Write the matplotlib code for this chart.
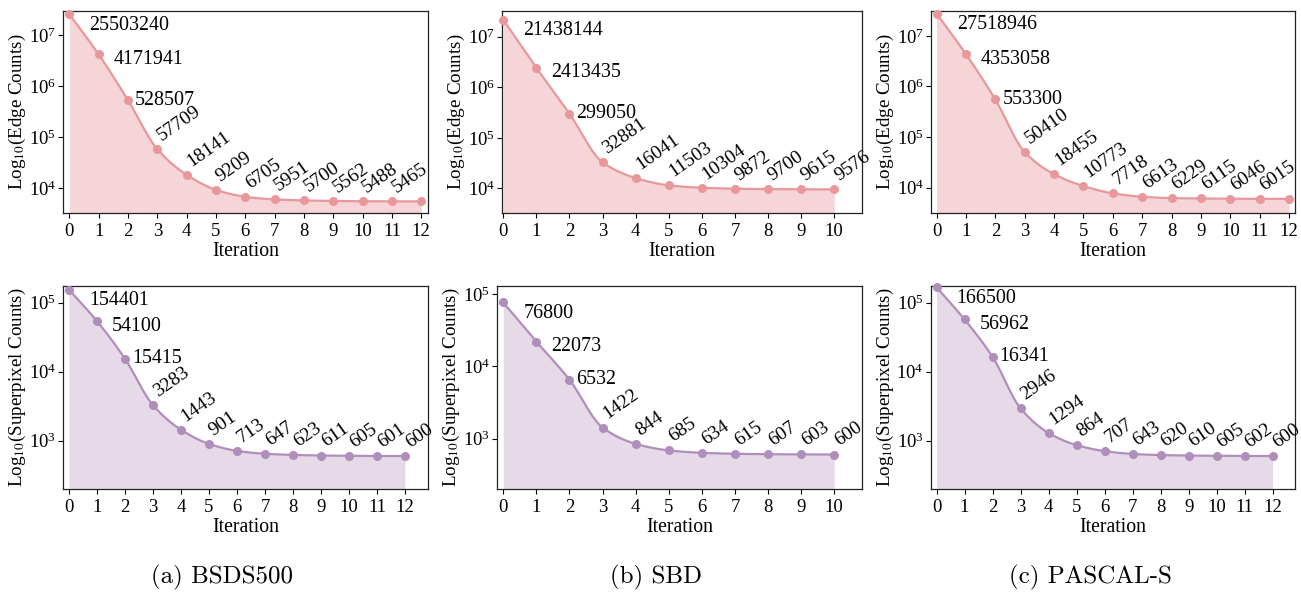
import numpy as np
import matplotlib
matplotlib.use('Agg')
import matplotlib.pyplot as plt
from matplotlib.ticker import NullLocator, FixedLocator

plt.rcParams['font.family'] = 'serif'
plt.rcParams['font.serif'] = ['Liberation Serif', 'DejaVu Serif']
plt.rcParams['mathtext.fontset'] = 'stix'

# ---- data ----
bsds_edges = [25503240, 4171941, 528507, 57709, 18141, 9209, 6705, 5951,
              5700, 5562, 5488, 5465, 5465]
sbd_edges = [21438144, 2413435, 299050, 32881, 16041, 11503, 10304, 9872,
             9700, 9615, 9576]
pascal_edges = [27518946, 4353058, 553300, 50410, 18455, 10773, 7718, 6613,
                6229, 6115, 6046, 6015, 6015]

bsds_sp = [154401, 54100, 15415, 3283, 1443, 901, 713, 647, 623, 611, 605,
           601, 600]
sbd_sp = [76800, 22073, 6532, 1422, 844, 685, 634, 615, 607, 603, 600]
pascal_sp = [166500, 56962, 16341, 2946, 1294, 864, 707, 643, 620, 610, 605,
             602, 600]

# number of annotated points per panel
edge_nlabels = [12, 11, 12]
sp_nlabels = [13, 11, 13]

captions = ['(a) BSDS500', '(b) SBD', '(c) PASCAL-S']

EDGE_LINE = '#E8989B'
EDGE_FILL = '#F5D5D8'
SP_LINE = '#B08EBB'
SP_FILL = '#E7DAE8'


def pchip(x, y, xn):
    """monotone cubic for a smooth curve through the points"""
    h = np.diff(x)
    d = np.diff(y) / h
    m = np.zeros_like(y)
    m[0], m[-1] = d[0], d[-1]
    for k in range(1, len(y) - 1):
        if d[k - 1] * d[k] > 0:
            w1 = 2 * h[k] + h[k - 1]
            w2 = h[k] + 2 * h[k - 1]
            m[k] = (w1 + w2) / (w1 / d[k - 1] + w2 / d[k])
    idx = np.clip(np.searchsorted(x, xn) - 1, 0, len(x) - 2)
    t = (xn - x[idx]) / h[idx]
    h00 = 2 * t**3 - 3 * t**2 + 1
    h10 = t**3 - 2 * t**2 + t
    h01 = -2 * t**3 + 3 * t**2
    h11 = t**3 - t**2
    return (h00 * y[idx] + h10 * h[idx] * m[idx] + h01 * y[idx + 1]
            + h11 * h[idx] * m[idx + 1])


def draw(ax, vals, nlab, line_c, fill_c, ylabel, ylim, xlim, yticks):
    vals = np.array(vals, dtype=float)
    x = np.arange(len(vals), dtype=float)
    xd = np.linspace(0, x[-1], 400)
    yd = 10 ** pchip(x, np.log10(vals), xd)
    ax.fill_between(xd, yd, ylim[0] * 0.5, color=fill_c, lw=0, zorder=1)
    ax.plot(xd, yd, color=line_c, lw=1.6, zorder=2)
    ax.plot(x, vals, 'o', color=line_c, ms=5.5, zorder=3, clip_on=False)
    ax.set_yscale('log')
    ax.set_ylim(*ylim)
    ax.set_xlim(*xlim)
    ax.yaxis.set_major_locator(FixedLocator(yticks))
    ax.yaxis.set_minor_locator(NullLocator())
    ax.set_xticks(x)
    ax.set_xticklabels([str(int(i)) for i in x])
    ax.tick_params(labelsize=13.5, length=3.5, width=0.8)
    ax.tick_params(axis='x', pad=4)
    ax.tick_params(axis='y', pad=1.5)
    ax.set_xlabel('Iteration', fontsize=14.2, labelpad=1)
    ax.set_ylabel(ylabel, fontsize=13.7, labelpad=0.5)
    for s in ax.spines.values():
        s.set_color('#222222')
        s.set_linewidth(0.9)

    offs = [(14.5, -8), (10.8, -3.6), (5, 0)]
    for i in range(nlab):
        if i < 3:
            ax.annotate(str(int(vals[i])), (x[i], vals[i]), xytext=offs[i],
                        textcoords='offset points', ha='left', va='center',
                        fontsize=14.4, annotation_clip=False)
        else:
            ax.annotate(str(int(vals[i])), (x[i], vals[i]), xytext=(-2, 3.5),
                        textcoords='offset points', ha='left', va='bottom',
                        rotation=35, fontsize=14, annotation_clip=False)


fig = plt.figure(figsize=(13.01, 5.95), dpi=100)

W, H = 1301.0, 595.0
top_pos = [(63.3, 427.7, -0.205, 12.22), (502.3, 861.7, -0.03, 10.83),
           (931.0, 1295.0, -0.19, 12.2)]
bot_pos = [(63.3, 427.7, -0.2, 12.81), (497.3, 861.7, -0.18, 10.83),
           (930.7, 1295.0, -0.21, 12.8)]
edge_ylims = [(3230, 2.95e7), (3270, 3.2e7), (3160, 3.1e7)]
sp_ylims = [(200, 1.74e5), (200, 1.3e5), (200, 1.74e5)]

edge_data = [bsds_edges, sbd_edges, pascal_edges]
sp_data = [bsds_sp, sbd_sp, pascal_sp]

for j in range(3):
    l, r, x0, x1 = top_pos[j]
    ax = fig.add_axes([l / W, 1 - 213 / H, (r - l) / W, 202 / H])
    draw(ax, edge_data[j], edge_nlabels[j], EDGE_LINE, EDGE_FILL,
         r'Log$_{10}$(Edge Counts)', edge_ylims[j], (x0, x1),
         [1e4, 1e5, 1e6, 1e7])

    l, r, x0, x1 = bot_pos[j]
    ax = fig.add_axes([l / W, 1 - 489 / H, (r - l) / W, 203 / H])
    draw(ax, sp_data[j], sp_nlabels[j], SP_LINE, SP_FILL,
         r'Log$_{10}$(Superpixel Counts)', sp_ylims[j], (x0, x1),
         [1e3, 1e4, 1e5])

for j, cx in enumerate([222, 656, 1090]):
    fig.text(cx / W, 1 - 577 / H, captions[j], ha='center', va='center',
             fontsize=18, family='cmr10')

fig.savefig('out.png', dpi=100)
